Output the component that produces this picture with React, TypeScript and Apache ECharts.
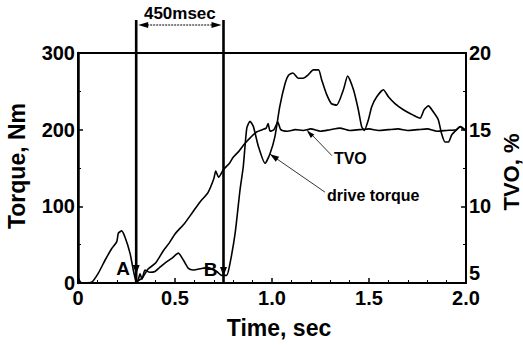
import React, { useEffect, useRef } from "react";
import * as echarts from "echarts";

const timeDrive = [0, 0.01, 0.02, 0.07, 0.105, 0.14, 0.174, 0.2, 0.208, 0.225, 0.242, 0.268, 0.285, 0.297, 0.305, 0.32, 0.33, 0.345, 0.37, 0.397, 0.42, 0.448, 0.483, 0.517, 0.543, 0.569, 0.594, 0.637, 0.67, 0.715, 0.74, 0.766, 0.78, 0.81, 0.835, 0.852, 0.87, 0.887, 0.904, 0.93, 0.964, 0.99, 1.015, 1.04, 1.067, 1.085, 1.108, 1.135, 1.16, 1.185, 1.213, 1.24, 1.256, 1.28, 1.306, 1.333, 1.368, 1.39, 1.42, 1.445, 1.462, 1.476, 1.497, 1.514, 1.54, 1.574, 1.6, 1.634, 1.677, 1.728, 1.763, 1.784, 1.806, 1.832, 1.857, 1.874, 1.892, 1.91, 1.926, 1.952, 1.97, 1.99, 2.0];
const driveTorque = [8, 2, 0, 1, 13, 30, 45, 54, 65, 68, 60, 39, 17, 4, 0, 12, 5, 17, 14, 15, 20, 26, 32, 39, 30, 19, 17, 19, 20, 15, 10, 10, 21, 65, 121, 152, 202, 211, 204, 178, 156, 169, 191, 230, 260, 271, 274, 267, 267, 271, 278, 278, 265, 247, 234, 232, 252, 270, 252, 226, 204, 199, 213, 230, 243, 252, 243, 234, 226, 219, 215, 226, 231, 223, 213, 195, 184, 184, 193, 200, 204, 201, 198];

const timeTvo = [0.3, 0.33, 0.36, 0.4, 0.44, 0.47, 0.5, 0.55, 0.59, 0.63, 0.67, 0.7, 0.71, 0.725, 0.75, 0.78, 0.8, 0.83, 0.86, 0.89, 0.92, 0.95, 0.97, 0.98, 0.99, 1.01, 1.03, 1.045, 1.08, 1.12, 1.16, 1.2, 1.25, 1.3, 1.35, 1.4, 1.45, 1.5, 1.55, 1.6, 1.65, 1.7, 1.75, 1.8, 1.85, 1.9, 1.95, 1.97, 1.99, 2.0];
const tvo = [5.1, 5.3, 5.9, 6.3, 7.1, 7.6, 8.2, 8.9, 9.6, 10.3, 10.9, 11.8, 12.3, 11.9, 12.4, 12.8, 13.2, 13.6, 14.1, 14.5, 14.85, 15.0, 15.1, 15.4, 14.9, 15.0, 15.5, 15.0, 14.9, 15.0, 14.95, 15.05, 14.9, 15.0, 15.1, 14.95, 15.0, 15.05, 14.95, 15.0, 15.05, 14.95, 15.0, 15.05, 14.9, 14.95, 15.0, 15.2, 15.0, 15.0];

const markerTimes = [0.3, 0.75];
const markerLabels = ["A", "B"];
const spanLabel = "450msec";

const FONT = "Liberation Sans, Arial, sans-serif";

function arrowHead(tipX: number, tipY: number, fromX: number, fromY: number, len: number, half: number) {
  const dx = tipX - fromX;
  const dy = tipY - fromY;
  const d = Math.sqrt(dx * dx + dy * dy) || 1;
  const ux = dx / d, uy = dy / d;
  const bx = tipX - ux * len, by = tipY - uy * len;
  return [
    [tipX, tipY],
    [bx - uy * half, by + ux * half],
    [bx + uy * half, by - ux * half],
  ];
}

export default function App() {
  const ref = useRef<HTMLDivElement>(null);
  useEffect(() => {
    const chart = echarts.init(ref.current!, null, { renderer: "svg" });
    const labelStyle = { color: "#000", fontFamily: FONT, fontWeight: "bold" as const, fontSize: 20 };
    chart.setOption({
      animation: false,
      backgroundColor: "#fff",
      grid: { left: 78, top: 53, right: 57, bottom: 62, show: true, borderColor: "#000", borderWidth: 2, backgroundColor: "transparent" },
      xAxis: {
        type: "value", min: 0, max: 2, interval: 0.5,
        axisLine: { lineStyle: { color: "#000", width: 2 } },
        axisTick: { inside: true, length: 5, lineStyle: { color: "#000", width: 1.5 } },
        minorTick: { show: true, splitNumber: 5, length: 3, lineStyle: { color: "#000", width: 1 } },
        splitLine: { show: false },
        axisLabel: { ...labelStyle, margin: 5, formatter: (v: number) => (v === 0 ? "0" : v.toFixed(1)) },
      },
      yAxis: [
        {
          type: "value", min: 0, max: 300, interval: 100, position: "left",
          axisLine: { show: true, lineStyle: { color: "#000", width: 2.5 } },
          axisTick: { show: true, inside: true, length: 5, lineStyle: { color: "#000", width: 1.5 } },
          minorTick: { show: true, splitNumber: 2, length: 3, lineStyle: { color: "#000", width: 1 } },
          splitLine: { show: false },
          axisLabel: { ...labelStyle, margin: 3 },
        },
        {
          type: "value", min: 5, max: 20, interval: 5, position: "right",
          axisLine: { show: true, lineStyle: { color: "#000", width: 2 } },
          axisTick: { show: true, inside: true, length: 5, lineStyle: { color: "#000", width: 1.5 } },
          minorTick: { show: true, splitNumber: 2, length: 3, lineStyle: { color: "#000", width: 1 } },
          splitLine: { show: false },
          axisLabel: { ...labelStyle, margin: 3, verticalAlignMinLabel: "bottom" },
        },
      ],
      series: [
        {
          name: "drive torque", type: "line", yAxisIndex: 0, showSymbol: false, smooth: 0.2,
          lineStyle: { color: "#000", width: 1.6 },
          data: timeDrive.map((t, i) => [t, driveTorque[i]]),
        },
        {
          name: "TVO", type: "line", yAxisIndex: 1, showSymbol: false, smooth: 0.2,
          lineStyle: { color: "#000", width: 1.6 },
          data: timeTvo.map((t, i) => [t, tvo[i]]),
        },
      ],
    });

    const px = (t: number, v: number, yi = 0) => chart.convertToPixel({ xAxisIndex: 0, yAxisIndex: yi }, [t, v]) as number[];
    const g: any[] = [];
    const [, yTop] = px(0, 300);
    const [, yBot] = px(0, 0);
    const lineTop = yTop - 33;
    const xs = markerTimes.map((t) => px(t, 0)[0]);
    xs.forEach((x, i) => {
      g.push({ type: "line", shape: { x1: x, y1: lineTop, x2: x, y2: yBot }, style: { stroke: "#000", lineWidth: 2.6 }, z: 10 });
      g.push({ type: "polygon", shape: { points: arrowHead(x, yBot - 9 + i * 2, x, yBot - 25, 9, 3.5) }, style: { fill: "#000" }, z: 10 });
      g.push({
        type: "text", x: x - 13, y: yBot - 15 + i, z: 10,
        style: { text: markerLabels[i], fill: "#000", font: `bold 19px ${FONT}`, textAlign: "center", textVerticalAlign: "middle" },
      });
    });
    // span arrow
    const ay = lineTop + 5;
    g.push({ type: "line", shape: { x1: xs[0] + 8, y1: ay, x2: xs[1] - 8, y2: ay }, style: { stroke: "#000", lineWidth: 1, lineDash: [2, 1] }, z: 10 });
    g.push({ type: "polygon", shape: { points: arrowHead(xs[0] + 2, ay, xs[0] + 20, ay, 10, 3) }, style: { fill: "#000" }, z: 10 });
    g.push({ type: "polygon", shape: { points: arrowHead(xs[1] - 2, ay, xs[1] - 20, ay, 10, 3) }, style: { fill: "#000" }, z: 10 });
    g.push({
      type: "text", x: (xs[0] + xs[1]) / 2, y: ay - 12, z: 10,
      style: { text: spanLabel, fill: "#000", font: `bold 17px ${FONT}`, textAlign: "center", textVerticalAlign: "middle" },
    });

    // TVO annotation
    const tvoTip = px(1.18, 15, 1);
    const tvoFrom = [tvoTip[0] + 25, tvoTip[1] + 26];
    g.push({ type: "line", shape: { x1: tvoFrom[0], y1: tvoFrom[1], x2: tvoTip[0], y2: tvoTip[1] }, style: { stroke: "#000", lineWidth: 0.8 }, z: 10 });
    g.push({ type: "polygon", shape: { points: arrowHead(tvoTip[0], tvoTip[1] + 1, tvoFrom[0], tvoFrom[1], 8, 2.5) }, style: { fill: "#000" }, z: 10 });
    g.push({
      type: "text", x: tvoFrom[0] + 2, y: tvoFrom[1] + 3, z: 10,
      style: { text: "TVO", fill: "#000", font: `bold 16px ${FONT}`, textAlign: "left", textVerticalAlign: "middle" },
    });

    // drive torque annotation
    const dtTip = px(0.99, 168, 0);
    const dtFrom = [dtTip[0] + 55, dtTip[1] + 38];
    g.push({ type: "line", shape: { x1: dtFrom[0], y1: dtFrom[1], x2: dtTip[0], y2: dtTip[1] }, style: { stroke: "#000", lineWidth: 0.8 }, z: 10 });
    g.push({ type: "polygon", shape: { points: arrowHead(dtTip[0], dtTip[1], dtFrom[0], dtFrom[1], 9, 3) }, style: { fill: "#000" }, z: 10 });
    g.push({
      type: "text", x: dtFrom[0] + 2, y: dtFrom[1] + 3, z: 10,
      style: { text: "drive torque", fill: "#000", font: `bold 16px ${FONT}`, textAlign: "left", textVerticalAlign: "middle" },
    });

    // axis titles
    const gridCx = (px(0, 0)[0] + px(2, 0)[0]) / 2;
    g.push({
      type: "text", x: gridCx + 7, y: 328, z: 10,
      style: { text: "Time, sec", fill: "#000", font: `bold 23px ${FONT}`, textAlign: "center", textVerticalAlign: "middle" },
    });
    g.push({
      type: "text", x: 17, y: 166, rotation: Math.PI / 2, z: 10,
      style: { text: "Torque, Nm", fill: "#000", font: `bold 23px ${FONT}`, textAlign: "center", textVerticalAlign: "middle" },
    });
    g.push({
      type: "text", x: 511, y: 172, rotation: Math.PI / 2, z: 10,
      style: { text: "TVO, %", fill: "#000", font: `bold 22px ${FONT}`, textAlign: "center", textVerticalAlign: "middle" },
    });

    chart.setOption({ graphic: g });
    return () => chart.dispose();
  }, []);
  return <div ref={ref} style={{ position: "absolute", left: 0, top: 0, width: 523, height: 345 }} />;
}
